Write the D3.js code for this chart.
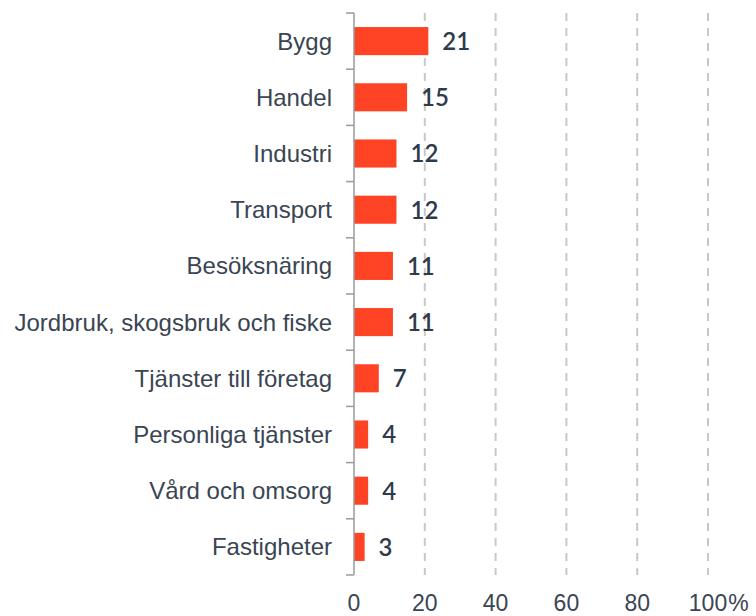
<!DOCTYPE html>
<html>
<head>
<meta charset="utf-8">
<script src="https://cdn.jsdelivr.net/npm/d3@7"></script>
<style>
  body { margin: 0; background: #fff; }
  svg { display: block; }
</style>
</head>
<body>
<div id="chart"></div>
<script>
const categories = ['Bygg', 'Handel', 'Industri', 'Transport', 'Besöksnäring',
    'Jordbruk, skogsbruk och fiske', 'Tjänster till företag', 'Personliga tjänster',
    'Vård och omsorg', 'Fastigheter'];
const values = [21, 15, 12, 12, 11, 11, 7, 4, 4, 3];
const xTicks = [0, 20, 40, 60, 80, 100];

const W = 756, H = 616;
const plotLeft = 354, plotRight = 708, plotTop = 13, plotBottom = 575;
const textColor = '#2f3b4b';

const svg = d3.select('#chart').append('svg')
    .attr('width', W)
    .attr('height', H);

const x = d3.scaleLinear().domain([0, 100]).range([plotLeft, plotRight]);
const y = d3.scaleBand()
    .domain(categories)
    .range([plotTop, plotBottom])
    .paddingInner(0.5)
    .paddingOuter(0.25);

// dashed gridlines
svg.append('g')
    .selectAll('line')
    .data(xTicks.filter(d => d > 0))
    .join('line')
    .attr('x1', d => x(d))
    .attr('x2', d => x(d))
    .attr('y1', plotTop)
    .attr('y2', plotBottom)
    .style('stroke', '#c8c8c8')
    .style('stroke-width', 2)
    .style('stroke-dasharray', '8,7');

// bars
svg.append('g')
    .selectAll('rect')
    .data(categories)
    .join('rect')
    .attr('x', x(0))
    .attr('y', d => y(d))
    .attr('width', (d, i) => x(values[i]) - x(0))
    .attr('height', y.bandwidth())
    .attr('fill', '#ff4325');

// value labels
svg.append('g')
    .selectAll('text')
    .data(categories)
    .join('text')
    .attr('x', (d, i) => x(values[i]) + 14)
    .attr('y', d => y(d) + y.bandwidth() / 2)
    .attr('dy', '0.37em')
    .style('font-family', 'Lato, sans-serif')
    .style('font-size', '24px')
    .style('font-weight', 600)
    .style('fill', textColor)
    .text((d, i) => values[i]);

// y axis line and boundary ticks
const yAxis = svg.append('g');
yAxis.append('line')
    .attr('x1', x(0)).attr('x2', x(0))
    .attr('y1', plotTop).attr('y2', plotBottom)
    .style('stroke', '#9a9a9a')
    .style('stroke-width', 1.5);
yAxis.selectAll('.btick')
    .data(d3.range(categories.length + 1))
    .join('line')
    .attr('class', 'btick')
    .attr('x1', x(0) - 8).attr('x2', x(0))
    .attr('y1', i => plotTop + i * y.step())
    .attr('y2', i => plotTop + i * y.step())
    .style('stroke', '#9a9a9a')
    .style('stroke-width', 1.5);

// category labels
yAxis.selectAll('.cat')
    .data(categories)
    .join('text')
    .attr('class', 'cat')
    .attr('x', x(0) - 22)
    .attr('y', d => y(d) + y.bandwidth() / 2)
    .attr('dy', '0.35em')
    .attr('text-anchor', 'end')
    .style('font-family', '"Liberation Sans", Arial, sans-serif')
    .style('font-size', '24px')
    .style('fill', '#3a4553')
    .text(d => d);

// x tick labels
const xl = svg.append('g')
    .selectAll('text')
    .data(xTicks)
    .join('text')
    .attr('x', d => x(d))
    .attr('y', 611)
    .attr('text-anchor', 'middle')
    .style('font-family', '"Liberation Sans", Arial, sans-serif')
    .style('font-size', '23px')
    .style('fill', '#3a4553')
    .text(d => d);

// "100%": keep the number centred on the gridline, append the sign
xl.filter(d => d === 100).each(function() {
    const t = d3.select(this);
    const w = this.getComputedTextLength();
    t.attr('text-anchor', 'start').attr('x', x(100) - w / 2);
    t.append('tspan').attr('dx', 1).text('%');
});
</script>
</body>
</html>
